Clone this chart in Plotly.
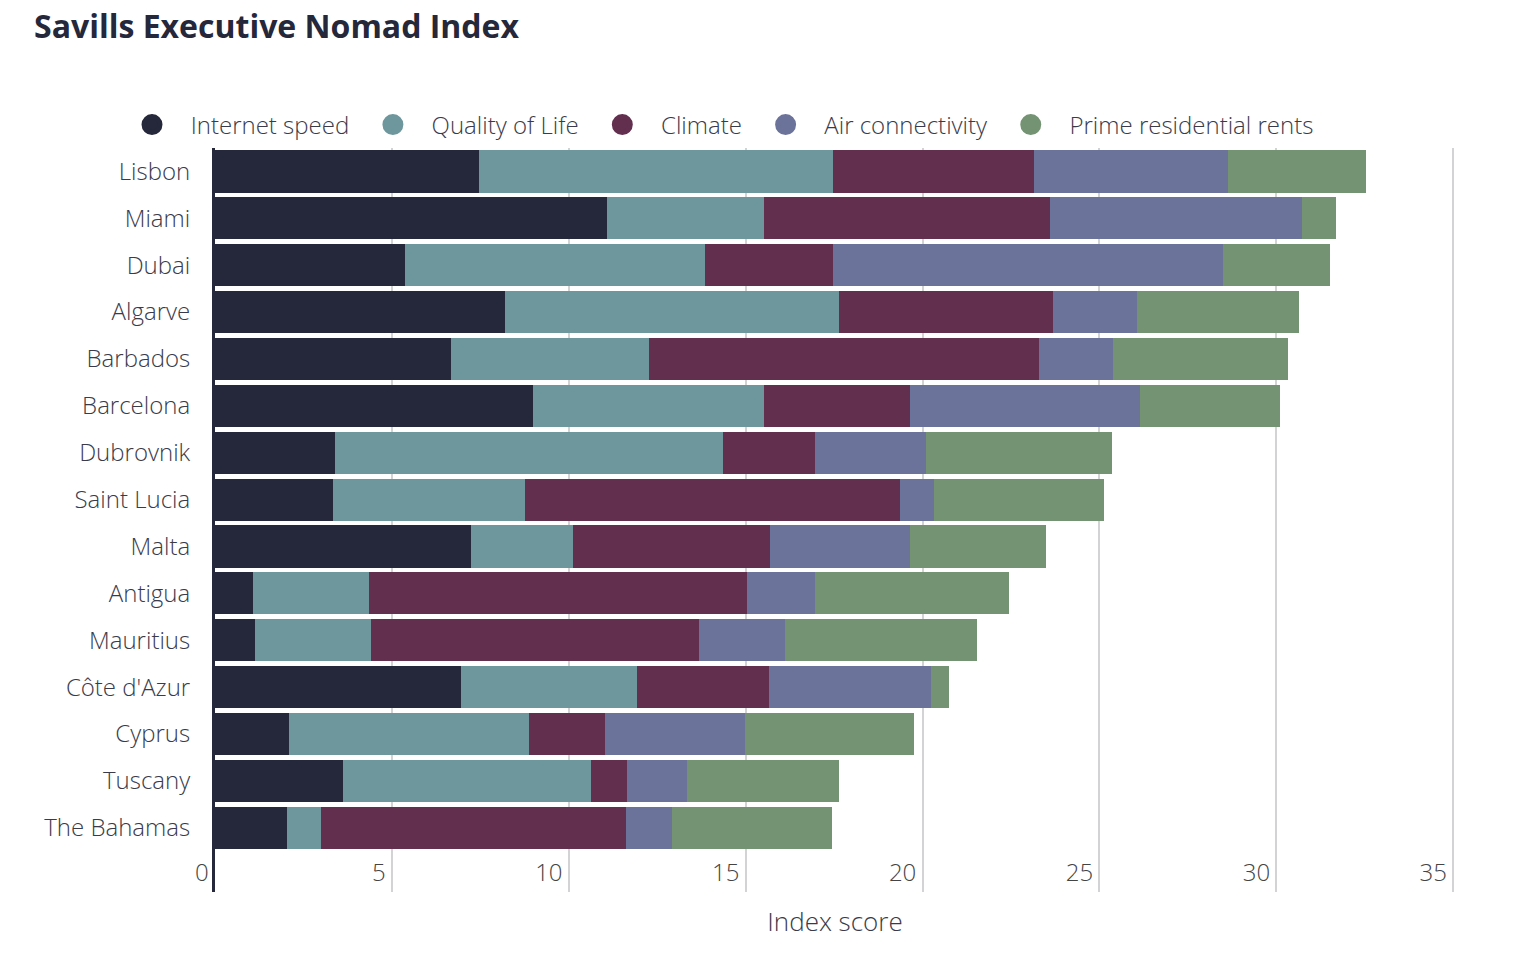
import plotly.graph_objects as go

cities = ["Lisbon", "Miami", "Dubai", "Algarve", "Barbados", "Barcelona", "Dubrovnik",
          "Saint Lucia", "Malta", "Antigua", "Mauritius", "Côte d'Azur", "Cyprus",
          "Tuscany", "The Bahamas"]

internet_speed = [7.46, 11.07, 5.37, 8.19, 6.67, 8.98, 3.39, 3.33, 7.23, 1.07, 1.13, 6.95, 2.09, 3.62, 2.03]
quality_of_life = [10.0, 4.46, 8.47, 9.44, 5.59, 6.55, 10.96, 5.42, 2.88, 3.28, 3.28, 4.97, 6.78, 7.01, 0.96]
climate = [5.70, 8.08, 3.62, 6.05, 11.02, 4.12, 2.60, 10.62, 5.59, 10.68, 9.27, 3.73, 2.15, 1.02, 8.64]
air_connectivity = [5.48, 7.12, 11.02, 2.37, 2.09, 6.50, 3.16, 0.96, 3.95, 1.92, 2.43, 4.58, 3.95, 1.69, 1.30]
prime_rents = [3.90, 0.96, 3.05, 4.58, 4.97, 3.95, 5.25, 4.80, 3.84, 5.48, 5.42, 0.51, 4.80, 4.29, 4.52]

series_names = ["Internet speed", "Quality of Life", "Climate", "Air connectivity", "Prime residential rents"]
series_values = [internet_speed, quality_of_life, climate, air_connectivity, prime_rents]
series_colors = ["#25273a", "#6e979d", "#632f4f", "#6c739a", "#739372"]

x_ticks = [0, 5, 10, 15, 20, 25, 30, 35]

FONT = "Open Sans"
TEXT = "#3a3b4a"
NB = "\u00a0"

fig = go.Figure()
for name, vals, col in zip(series_names, series_values, series_colors):
    fig.add_trace(go.Bar(
        y=cities, x=vals, name=name, orientation="h",
        marker=dict(color=col, line=dict(width=0)),
        showlegend=False, hoverinfo="x+y+name",
    ))
for name, col in zip(series_names, series_colors):
    fig.add_trace(go.Scatter(
        x=[None], y=[None], mode="markers", name=NB * 3 + name + NB * 3,
        marker=dict(symbol="circle", size=16, color=col, line=dict(color=col, width=5)),
        showlegend=True,
    ))

W, H = 1518, 960
fig.update_layout(
    width=W, height=H,
    barmode="stack", bargap=0.1,
    plot_bgcolor="white", paper_bgcolor="white",
    margin=dict(l=215, r=W - 1455, t=148, b=H - 892, autoexpand=False),
    font=dict(family=FONT, size=24, color=TEXT, weight=300),
    title=dict(
        text="Savills Executive Nomad Index",
        font=dict(family=FONT, size=32, color="#25273a", weight=700),
        xref="container", yref="container", x=34 / W, y=1 - 27 / H,
        xanchor="left", yanchor="middle",
    ),
    legend=dict(
        orientation="h", xref="container", yref="container", traceorder="normal",
        x=132 / W, y=1 - 125 / H, xanchor="left", yanchor="middle",
        font=dict(family=FONT, size=24, color=TEXT, weight=300),
        itemclick=False,
    ),
    xaxis=dict(
        range=[0, 35.05], tickvals=x_ticks, ticktext=[str(t) + NB for t in x_ticks],
        showgrid=True, gridcolor="#d3d3d6", gridwidth=1.5, zeroline=False,
        showline=False, ticks="", ticklabelposition="inside left", ticklabeloverflow="allow",
        title=dict(text="Index score", font=dict(family=FONT, size=26, color=TEXT, weight=300), standoff=25),
    ),
    yaxis=dict(
        categoryorder="array", categoryarray=cities,
        range=[14.5 + 0.87, -0.5],
        showline=True, linecolor="#25273a", linewidth=3,
        showgrid=False, ticks="", ticklabelstandoff=17,
    ),
)

fig.write_html("out.html", config={"displayModeBar": False},
               post_script="document.body.style.margin='0px';")
